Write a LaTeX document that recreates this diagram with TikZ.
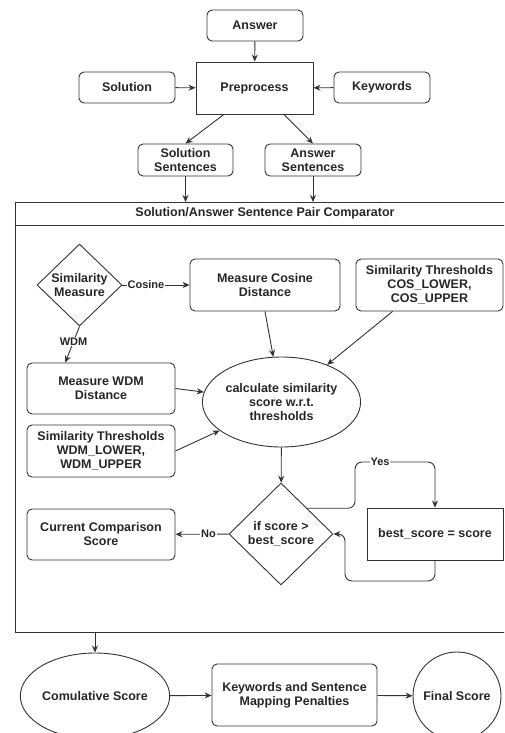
\documentclass[tikz,border=0pt]{standalone}
\usepackage{fontspec}
\setmainfont{Liberation Sans}
\usetikzlibrary{arrows.meta,shapes.geometric,calc}

\tikzset{
	rbox/.style={draw, rounded corners=5pt, align=center, inner sep=0pt},
	sbox/.style={draw, align=center, inner sep=0pt},
	dec/.style={draw, diamond, align=center, inner sep=0pt},
	oval/.style={draw, ellipse, align=center, inner sep=0pt},
	lbl/.style={fill=white, inner sep=1pt, font=\bfseries\fontsize{11}{12}\selectfont},
}

\begin{document}
\begin{tikzpicture}[x=1pt, y=-1pt, line width=0.9pt, draw=black!80,
	every node/.style={font=\bfseries\fontsize{12.5}{14}\selectfont, text=black!85},
	>={Stealth[length=7pt, width=6pt]}]
	\clip (0,0) rectangle (504,733);
	% input side
	\node[rbox, minimum width=96, minimum height=31] (ans) at (255,25.5) {Answer};
	\node[sbox, minimum width=117, minimum height=52] (pre) at (254.5,88) {Preprocess};
	\node[rbox, minimum width=96, minimum height=31] (sol) at (127,87.5) {Solution};
	\node[rbox, minimum width=96, minimum height=31] (kw) at (382,87.5) {Keywords};
	\node[rbox, minimum width=95, minimum height=32] (ssent) at (185.5,160) {Solution\\Sentences};
	\node[rbox, minimum width=96, minimum height=32] (asent) at (313,160) {Answer\\Sentences};
	\draw[->] (ans) -- (pre);
	\draw[->] (sol) -- (pre);
	\draw[->] (kw) -- (pre);
	\draw[->] ($(pre.south west)!0.24!(pre.south east)$) -- (ssent.north);
	\draw[->] ($(pre.south west)!0.75!(pre.south east)$) -- (asent.north);

	% comparator
	\node[sbox, minimum width=500, minimum height=430, anchor=north west] (cmp) at (15,202) {};
	\node (cmpt) at (265,213.5) {Solution/Answer Sentence Pair Comparator};
	\draw (15,225) -- (515,225);
	\draw[->] (ssent) -- (ssent |- cmp.north);
	\draw[->] (asent) -- (asent |- cmp.north);

	\node[dec, minimum width=85, minimum height=82] (sim) at (79.5,285) {Similarity\\Measure};
	\node[rbox, minimum width=150, minimum height=52] (cosd) at (265,285) {Measure Cosine\\Distance};
	\node[rbox, minimum width=147, minimum height=52] (cost) at (429.5,285) {Similarity Thresholds\\COS\_LOWER,\\COS\_UPPER};
	\node[rbox, minimum width=148, minimum height=51] (wdmd) at (101,388.5) {Measure WDM\\Distance};
	\node[rbox, minimum width=148, minimum height=52] (wdmt) at (101,451) {Similarity Thresholds\\WDM\_LOWER,\\WDM\_UPPER};
	\node[oval, minimum width=129, minimum height=90] (calc) at (281.5,402) {calculate similarity\\score w.r.t.\\thresholds};
	\node[dec, minimum width=104, minimum height=102] (ifs) at (281,534) {if score >\\best\_score};
	\node[rbox, minimum width=148, minimum height=51] (cur) at (101,534.5) {Current Comparison\\Score};
	\node[sbox, minimum width=136, minimum height=52] (best) at (435,534) {best\_score = score};
	\coordinate (yesc) at (355,462);
	\coordinate (loopc) at (345,581);

	\draw[->] (sim) -- node[lbl, pos=0.35] {Cosine} (cosd);
	\draw[->] (sim.south) -- node[lbl, pos=0.42] {WDM} ($(wdmd.north west)!0.26!(wdmd.north east)$);
	\draw[->] (cosd.south) -- (calc);
	\draw[->] ($(cost.south west)!0.25!(cost.south east)$) -- (calc);
	\draw[->] (wdmd.east) -- (calc);
	\draw[->] (wdmt.east) -- (calc);
	\draw[->] (calc) -- (ifs);
	\draw[->] (ifs) -- node[lbl, pos=0.38] {No} (cur);
	\draw[->, rounded corners=7pt] ($(ifs.east)!0.5!(ifs.north)$) -| (yesc) -| (best.north);
	\node[lbl] (yes) at (380,462) {Yes};
	\draw[->, rounded corners=7pt] (best.south) |- (loopc) |- (ifs.east);

	% output side
	\node[oval, minimum width=128, minimum height=86] (cum) at (95,696) {Comulative Score};
	\node[rbox, minimum width=165, minimum height=62] (pen) at (294.5,695) {Keywords and Sentence\\Mapping Penalties};
	\node[draw, circle, minimum size=88, inner sep=0pt] (fin) at (457,696) {Final Score};
	\draw[->] (cum |- cmp.south) -- (cum);
	\draw[->] (cum) -- (pen);
	\draw[->] (pen) -- (fin);
\end{tikzpicture}
\end{document}
